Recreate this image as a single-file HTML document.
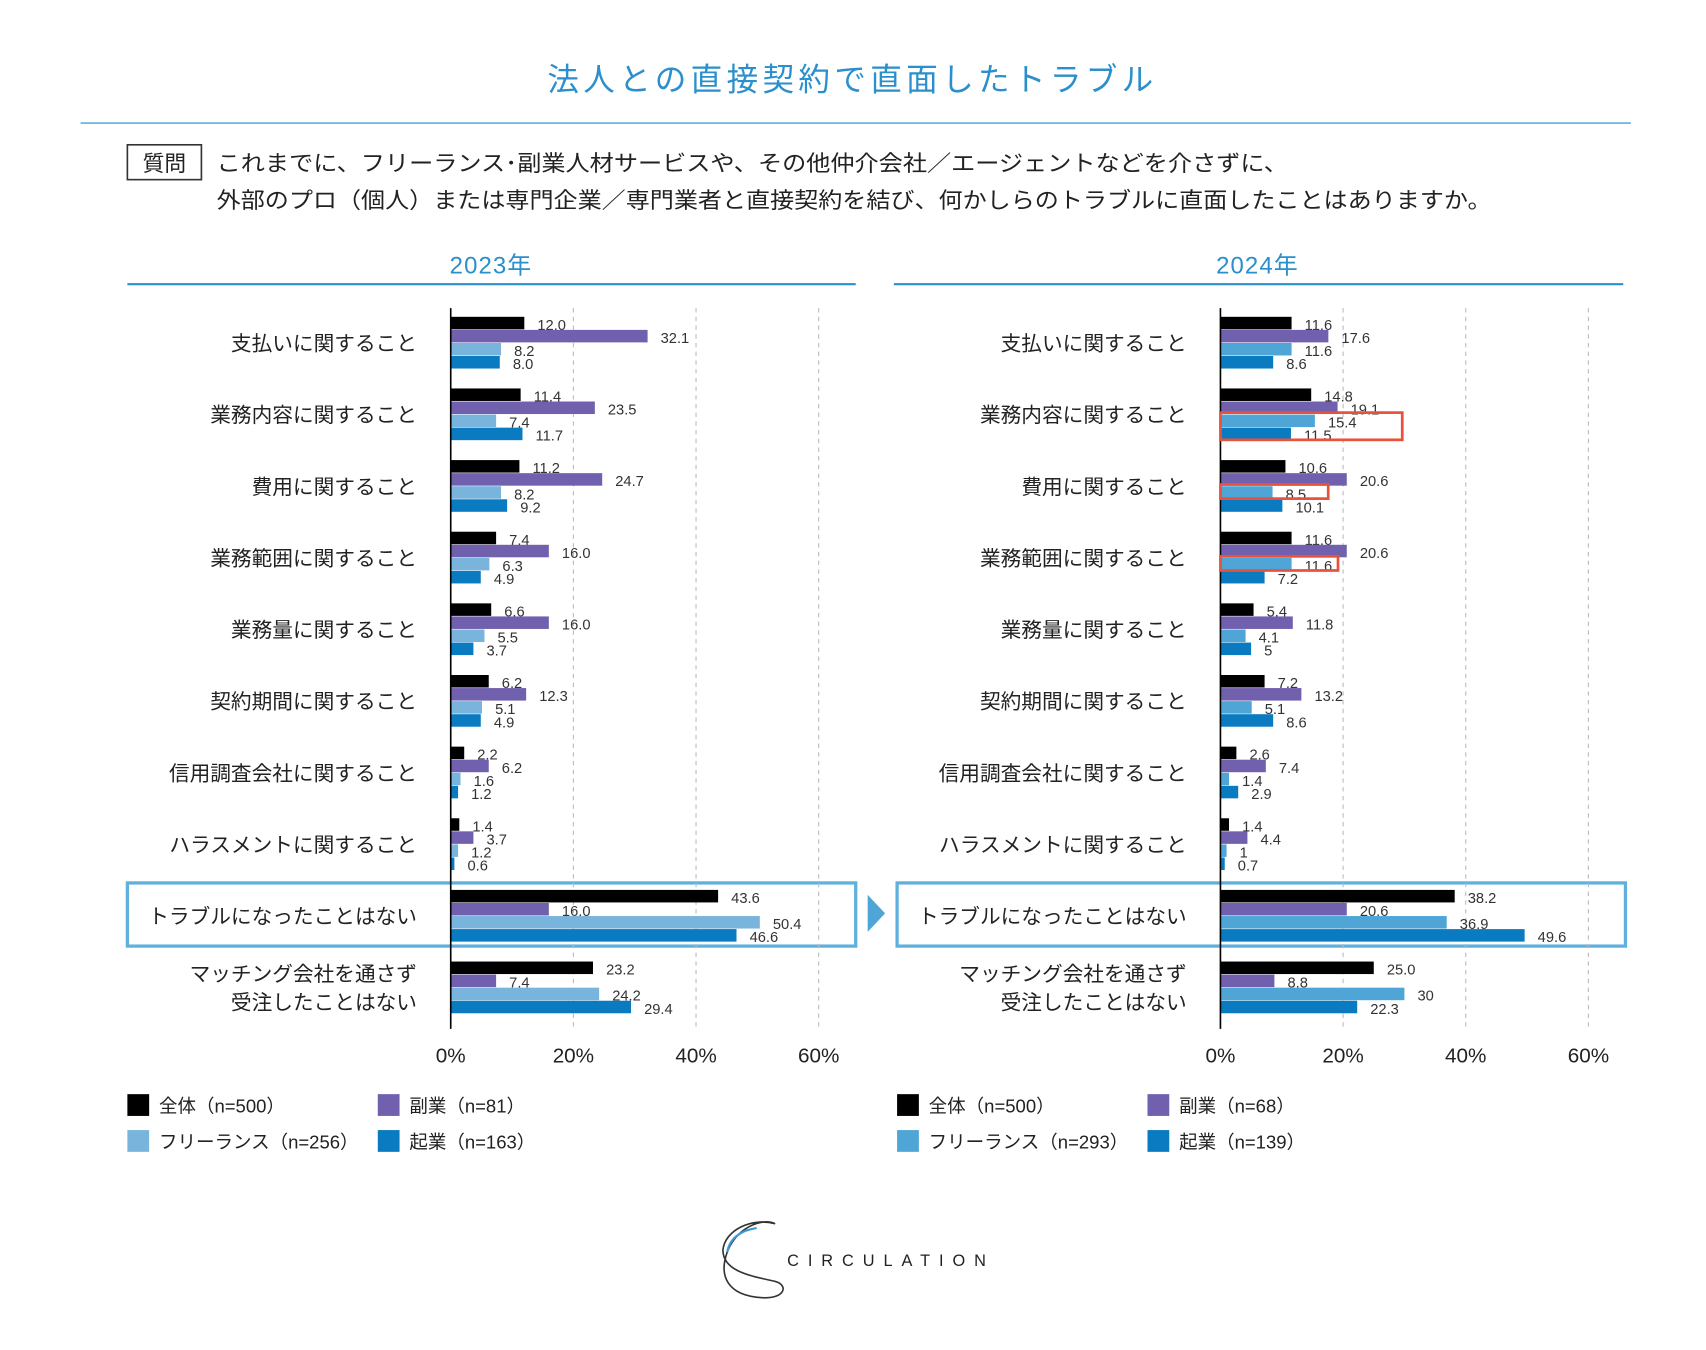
<!DOCTYPE html>
<html><head><meta charset="utf-8"><style>
html,body{margin:0;padding:0;background:#fff;}
svg{display:block;font-family:"Liberation Sans","Noto Sans CJK JP",sans-serif;}
</style></head><body>
<svg id="chart" xmlns="http://www.w3.org/2000/svg" width="1706" height="1350" viewBox="0 0 1567 1240">
<text x="783" y="83" text-anchor="middle" font-size="29" fill="#2a8fcc" letter-spacing="4">法人との直接契約で直面したトラブル</text>
<line x1="74" y1="113" x2="1498" y2="113" stroke="#5fb0dc" stroke-width="1.5"/>
<rect x="117" y="133" width="68" height="32" fill="none" stroke="#333" stroke-width="1.5"/>
<text x="151" y="157" text-anchor="middle" font-size="20" fill="#222">質問</text>
<text x="199" y="157" font-size="20.5" fill="#222" textLength="984" lengthAdjust="spacingAndGlyphs">これまでに、フリーランス･副業人材サービスや、その他仲介会社／エージェントなどを介さずに、</text>
<text x="199" y="191" font-size="20.5" fill="#222" textLength="1171" lengthAdjust="spacingAndGlyphs">外部のプロ（個人）または専門企業／専門業者と直接契約を結び、何かしらのトラブルに直面したことはありますか。</text>
<text x="451" y="251" text-anchor="middle" font-size="22" fill="#2a8fcc" letter-spacing="1">2023年</text>
<line x1="117" y1="261" x2="786" y2="261" stroke="#2a8fcc" stroke-width="2"/>
<text x="1155" y="251" text-anchor="middle" font-size="22" fill="#2a8fcc" letter-spacing="1">2024年</text>
<line x1="821" y1="261" x2="1491" y2="261" stroke="#2a8fcc" stroke-width="2"/>
<g id="p2023"></g>
<g id="p2024"></g>
<polygon points="797,822 813,839 797,856" fill="#4fa6d6"/>
<g>
<path d="M712,1124 C700,1118 676,1128 668,1150 C660,1172 668,1190 700,1192 C722,1193 724,1180 712,1177 C690,1172 664,1168 664,1148 C666,1130 690,1118 712,1124 Z" fill="none" stroke="#333" stroke-width="1.5"/>
<path d="M668,1150 C670,1138 680,1130 695,1128" fill="none" stroke="#3a9ad6" stroke-width="2"/>
<text x="723" y="1163" font-size="15" fill="#222" letter-spacing="8.2">CIRCULATION</text>
</g>
</svg>
<script>
var categories = ["支払いに関すること","業務内容に関すること","費用に関すること","業務範囲に関すること","業務量に関すること","契約期間に関すること","信用調査会社に関すること","ハラスメントに関すること","トラブルになったことはない","マッチング会社を通さず|受注したことはない"];
var tickValues = [0,20,40,60];
var tickLabels = ["0%","20%","40%","60%"];
var all2023 = [12.0,11.4,11.2,7.4,6.6,6.2,2.2,1.4,43.6,23.2];
var side2023 = [32.1,23.5,24.7,16.0,16.0,12.3,6.2,3.7,16.0,7.4];
var free2023 = [8.2,7.4,8.2,6.3,5.5,5.1,1.6,1.2,50.4,24.2];
var startup2023 = [8.0,11.7,9.2,4.9,3.7,4.9,1.2,0.6,46.6,29.4];
var all2023Labels = ["12.0","11.4","11.2","7.4","6.6","6.2","2.2","1.4","43.6","23.2"];
var side2023Labels = ["32.1","23.5","24.7","16.0","16.0","12.3","6.2","3.7","16.0","7.4"];
var free2023Labels = ["8.2","7.4","8.2","6.3","5.5","5.1","1.6","1.2","50.4","24.2"];
var startup2023Labels = ["8.0","11.7","9.2","4.9","3.7","4.9","1.2","0.6","46.6","29.4"];
var all2024 = [11.6,14.8,10.6,11.6,5.4,7.2,2.6,1.4,38.2,25.0];
var side2024 = [17.6,19.1,20.6,20.6,11.8,13.2,7.4,4.4,20.6,8.8];
var free2024 = [11.6,15.4,8.5,11.6,4.1,5.1,1.4,1,36.9,30];
var startup2024 = [8.6,11.5,10.1,7.2,5,8.6,2.9,0.7,49.6,22.3];
var all2024Labels = ["11.6","14.8","10.6","11.6","5.4","7.2","2.6","1.4","38.2","25.0"];
var side2024Labels = ["17.6","19.1","20.6","20.6","11.8","13.2","7.4","4.4","20.6","8.8"];
var free2024Labels = ["11.6","15.4","8.5","11.6","4.1","5.1","1.4","1","36.9","30"];
var startup2024Labels = ["8.6","11.5","10.1","7.2","5","8.6","2.9","0.7","49.6","22.3"];
var legend2023 = ["全体（n=500）","副業（n=81）","フリーランス（n=256）","起業（n=163）"];
var legend2024 = ["全体（n=500）","副業（n=68）","フリーランス（n=293）","起業（n=139）"];

var NS="http://www.w3.org/2000/svg";
var colors=["#000000","#7060ae","#6fb0dc","#0a7bc0"];
var seriesNames=["all","side-job","freelance","startup"];
function mk(tag,attrs,parent){var e=document.createElementNS(NS,tag);for(var k in attrs)e.setAttribute(k,attrs[k]);parent.appendChild(e);return e;}

function drawPanel(gid,x0,labelX,boxX,boxW,series,labels,legend,freeColor,year){
  var g=document.getElementById(gid);
  var pxPer=5.633;
  function xs(v){return x0+v*pxPer;}
  function yc(i){return 315+i*65.8;}
  var cols=colors.slice();cols[2]=freeColor;
  var hb=mk("rect",{x:boxX,y:811,width:boxW,height:58,fill:"none",stroke:"#5fb0dc","stroke-width":3},g);
  
  
  for(var t=0;t<tickValues.length;t++){
    if(tickValues[t]>0){
      var gl=mk("line",{x1:xs(tickValues[t]),y1:283,x2:xs(tickValues[t]),y2:945,stroke:"#bbb","stroke-width":1,"stroke-dasharray":"4,4"},g);
      
      
    }
    var tl=mk("text",{x:xs(tickValues[t]),y:976,"text-anchor":"middle","font-size":19,fill:"#222"},g);
    tl.textContent=tickLabels[t];
    
    
  }
  for(var i=0;i<categories.length;i++){
    var c=yc(i);
    var parts=categories[i].split("|");
    for(var p=0;p<parts.length;p++){
      var ty=parts.length>1?c-6+p*26:c+7;
      var ct=mk("text",{x:labelX,y:ty,"text-anchor":"end","font-size":19,fill:"#222"},g);
      ct.textContent=parts[p];
      
      
    }
    for(var s=0;s<4;s++){
      var v=series[s][i];
      var top=c-24+s*12;
      var r=mk("rect",{x:x0,y:top,width:xs(v)-x0,height:11.5,fill:cols[s]},g);
      
      
      var lt=mk("text",{x:xs(v)+12,y:top+12,"font-size":13.5,fill:"#333"},g);
      lt.textContent=labels[s][i];
      
      
    }
  }
  var ax=mk("line",{x1:x0,y1:283,x2:x0,y2:945,stroke:"#000","stroke-width":1.5},g);
  
  
  var lx=[boxX,boxX+230,boxX,boxX+230], ly=[1005,1005,1038,1038];
  for(var k=0;k<4;k++){
    var sq=mk("rect",{x:lx[k],y:ly[k],width:20,height:20,fill:cols[k]},g);
    
    
    var lg=mk("text",{x:lx[k]+29,y:ly[k]+17,"font-size":17,fill:"#222"},g);
    lg.textContent=legend[k];
    
    
  }
  return {xs:xs,yc:yc,g:g};
}
drawPanel("p2023",414,383,117,669,[all2023,side2023,free2023,startup2023],[all2023Labels,side2023Labels,free2023Labels,startup2023Labels],legend2023,"#79b4dc","2023");
var r24=drawPanel("p2024",1121,1090,824,669,[all2024,side2024,free2024,startup2024],[all2024Labels,side2024Labels,free2024Labels,startup2024Labels],legend2024,"#4fa6d6","2024");
var reds=[[1121,379,167,25],[1121,445,99,13],[1121,511,108,13]];
for(var q=0;q<reds.length;q++){
  var rb=mk("rect",{x:reds[q][0],y:reds[q][1],width:reds[q][2],height:reds[q][3],fill:"none",stroke:"#e8523a","stroke-width":2.5},r24.g);
  
  
}
</script>
</body></html>
